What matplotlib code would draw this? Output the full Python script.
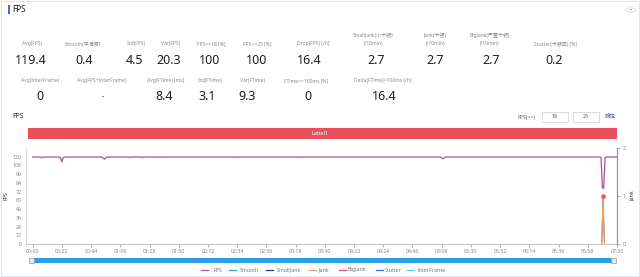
import matplotlib
matplotlib.use("Agg")
import matplotlib.pyplot as plt
from matplotlib.lines import Line2D
from matplotlib.patches import Rectangle, FancyBboxPatch, Circle

plt.rcParams['font.family'] = ['Noto Sans', 'Noto Sans CJK SC', 'DejaVu Sans']

W, H = 640, 277

# ---------------- data ----------------
row1_labels = ["Avg(FPS)", "Smooth(平滑度)", "Std(FPS)", "Var(FPS)", "FPS>=18 [%]", "FPS>=25 [%]",
               "Drop(FPS) [/h]", "SmallJank(小卡顿)\n(/10min)", "Jank(卡顿)\n(/10min)",
               "BigJank(严重卡顿)\n(/10min)", "Stutter(卡顿率) [%]"]
row1_values = ["119.4", "0.4", "4.5", "20.3", "100", "100", "16.4", "2.7", "2.7", "2.7", "0.2"]
row2_labels = ["Avg(InterFrame)", "Avg(FPS+InterFrame)", "Avg(FTime) [ms]", "Std(FTime)",
               "Var(FTime)", "FTime>=100ms [%]", "Delta(FTime)>100ms [/h]"]
row2_values = ["0", "-", "8.4", "3.1", "9.3", "0", "16.4"]

time_ticks = ["00:00", "00:22", "00:44", "01:06", "01:28", "01:50", "02:12", "02:34", "02:56",
              "03:18", "03:40", "04:02", "04:24", "04:46", "05:08", "05:30", "05:52", "06:14",
              "06:36", "06:58", "07:20"]

fps_sec = [0, 6, 7, 8, 20, 21, 22, 23, 24, 52, 53, 54, 55, 56, 72, 73, 74, 82, 83, 84,
           95, 96, 97, 150, 151, 152, 200, 201, 202, 307, 308, 309, 310, 311,
           427, 428, 429, 430, 431, 432, 440]
fps_val = [119.6, 119.6, 118.6, 119.6, 119.6, 118.6, 113.0, 118.6, 119.6, 119.6, 118.6, 116.5,
           118.6, 119.6, 119.6, 118.8, 119.6, 119.6, 118.8, 119.6,
           119.6, 118.8, 119.6, 119.6, 119.0, 119.6, 119.6, 119.0, 119.6, 119.6, 118.8, 117.0,
           118.8, 119.6, 119.6, 119.0, 77.0, 77.0, 119.0, 119.6, 119.6]

jank_sec = [428.5, 429.5, 430.5]
jank_val = [0, 1, 0]

legend_names = ["FPS", "Smooth", "SmallJank", "Jank", "BigJank", "Stutter", "InterFrame"]
legend_colors = ["#c0519c", "#3d9c9c", "#2e3a87", "#f4a462", "#e0505b", "#2f7fd0", "#5cc8e2"]

# ---------------- figure ----------------
fig = plt.figure(figsize=(W / 100, H / 100), dpi=100)
fig.patch.set_facecolor("white")

def fx(x):
    return x / W

def fy(y):
    return 1 - y / H

# outer panel border
fig.add_artist(Rectangle((fx(1), fy(276)), fx(638), 275 / H, transform=fig.transFigure,
                         fill=False, edgecolor="#e4e6ee", linewidth=0.8))
# title
fig.add_artist(Rectangle((fx(8), fy(14)), fx(1.6), 9 / H, transform=fig.transFigure,
                         color="#3e6fd8", linewidth=0))
fig.text(fx(12), fy(9.5), "FPS", fontsize=6, fontweight="bold", color="#222",
         va="center", ha="left")
# top-right small button
fig.add_artist(Circle((fx(631), fy(10)), 5 / W, transform=fig.transFigure,
                      fill=False, edgecolor="#d8d8d8", linewidth=0.6))
fig.text(fx(631), fy(10), "•", fontsize=4, color="#666", ha="center", va="center")

# stats row 1
row1_lx = [32, 83, 136, 171, 211, 257, 313, 373, 435, 490, 555]
row1_vx = [31, 84, 135, 169, 210, 257, 309, 376, 435, 491, 554]
for lab, val, lx, vx in zip(row1_labels, row1_values, row1_lx, row1_vx):
    ly = 39.5 if "\n" in lab else 44
    fig.text(fx(lx), fy(ly), lab, fontsize=3.6, color="#8a8a8a", ha="center", va="center",
             linespacing=1.6)
    fig.text(fx(vx), fy(60), val, fontsize=9, fontweight="bold", color="#1e1e1e",
             ha="center", va="center")

# stats row 2
row2_lx = [40, 102, 166, 210, 253, 306, 383]
row2_vx = [40, 103, 164, 207, 247, 308, 384]
for lab, val, lx, vx in zip(row2_labels, row2_values, row2_lx, row2_vx):
    fig.text(fx(lx), fy(81), lab, fontsize=3.6, color="#8a8a8a", ha="center", va="center")
    fig.text(fx(vx), fy(97), val, fontsize=9 if val != "-" else 5, fontweight="bold",
             color="#1e1e1e", ha="center", va="center")

# section 2 header
fig.text(fx(12), fy(117), "FPS", fontsize=5, fontweight="bold", color="#222",
         ha="left", va="center")
fig.text(fx(527), fy(117), "FPS(>=)", fontsize=3.8, color="#666", ha="center", va="center")
for bx, txt in [(542, "18"), (573, "25")]:
    fig.add_artist(Rectangle((fx(bx), fy(122)), fx(26), 10 / H, transform=fig.transFigure,
                             fill=False, edgecolor="#d6d6d6", linewidth=0.6))
    fig.text(fx(bx + 13), fy(117), txt, fontsize=3.8, color="#555", ha="center", va="center")
fig.text(fx(610), fy(117), "确定", fontsize=4, color="#3e6fd8", ha="center", va="center")

# red label bar
fig.add_artist(Rectangle((fx(28), fy(139)), fx(617 - 28), 11 / H, transform=fig.transFigure,
                         color="#e8505b", linewidth=0))
fig.text(fx(320), fy(133.5), "Label1", fontsize=4, color="white", ha="center", va="center")

# ---------------- chart ----------------
ax_left, ax_right, ax_top, ax_bot = 26, 617, 148, 244
ax = fig.add_axes([fx(ax_left), fy(ax_bot), fx(ax_right - ax_left), (ax_bot - ax_top) / H])
ax.plot(fps_sec, fps_val, color="#b0509a", linewidth=0.9, zorder=3)
ax.set_xlim(-5, 440)
ax.set_ylim(0, 132)
ax.set_yticks(range(0, 121, 12))
ax.set_yticklabels([str(v) for v in range(0, 121, 12)])
ax.set_xticks([22 * i for i in range(len(time_ticks))])
ax.set_xticklabels(time_ticks)
ax.tick_params(axis="both", labelsize=3.8, colors="#888", length=2, width=0.5, pad=1.5)
ax.tick_params(axis="y", length=0, pad=3)
for s in ["top", "right"]:
    ax.spines[s].set_visible(False)
ax.spines["left"].set_color("#cfcfcf")
ax.spines["left"].set_linewidth(0.6)
ax.spines["bottom"].set_color("#bdbdbd")
ax.spines["bottom"].set_linewidth(0.6)
ax.set_ylabel("FPS", fontsize=3.8, fontweight="bold", color="#333", labelpad=3)

ax2 = ax.twinx()
ax2.set_ylim(0, 2)
ax2.set_yticks([0, 1, 2])
ax2.plot(jank_sec, jank_val, color="#2e3a87", linewidth=0.6, zorder=2)
ax2.plot(jank_sec, jank_val, color="#f4a462", linewidth=0.8, zorder=3)
ax2.plot([jank_sec[1]], [jank_val[1]], marker="o", markersize=2.2, color="#e0505b",
         linestyle="none", zorder=4)
ax2.tick_params(axis="y", labelsize=3.8, colors="#888", length=2, width=0.5, pad=2)
for s in ["top", "left", "bottom"]:
    ax2.spines[s].set_visible(False)
ax2.spines["right"].set_color("#b780ad")
ax2.spines["right"].set_linewidth(0.9)
ax2.set_ylabel("Jank", fontsize=3.8, fontweight="bold", color="#333", labelpad=3, rotation=90)

# scrollbar (data zoom)
fig.add_artist(FancyBboxPatch((fx(33), fy(263)), fx(613 - 33), 5 / H,
                              boxstyle="round,pad=0,rounding_size=0.003",
                              transform=fig.transFigure, color="#2a9fe6", linewidth=0))
for hx in [31.5, 613]:
    fig.add_artist(Rectangle((fx(hx - 2.5), fy(263)), fx(5), 5 / H, transform=fig.transFigure,
                             facecolor="#e8e8e8", edgecolor="#9a9a9a", linewidth=0.5))

# legend
leg_marker_x = [204, 232, 269, 312, 342, 379, 410]
leg_text_x = [213, 240, 277, 318, 348, 385, 418]
for name, col, mx, tx in zip(legend_names, legend_colors, leg_marker_x, leg_text_x):
    fig.add_artist(Line2D([fx(mx - 3.5), fx(mx + 3.5)], [fy(270), fy(270)],
                          transform=fig.transFigure, color=col, linewidth=0.9))
    fig.text(fx(tx), fy(270), name, fontsize=3.8, color="#777", ha="left", va="center")

fig.savefig("out.png", dpi=100, facecolor="white")
